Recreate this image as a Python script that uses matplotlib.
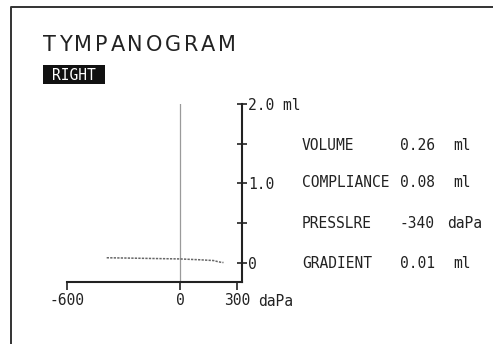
import matplotlib
matplotlib.use("Agg")
import matplotlib.pyplot as plt
from matplotlib.lines import Line2D
from matplotlib.patches import Rectangle

# --------------------------------------------------------------------------- #
# Data
# --------------------------------------------------------------------------- #
pressure = [-390, -300, -200, -100, 0, 100, 175, 200, 215, 228]  # daPa
compliance = [0.065, 0.062, 0.058, 0.054, 0.050, 0.040, 0.030, 0.015, 0.008, 0.005]  # ml

x_ticks = [-600, 0, 300]
x_tick_labels = ["-600", "0", "300"]
y_ticks = [0, 0.5, 1.0, 1.5, 2.0]
y_tick_labels = ["0", "", "1.0", "", "2.0 ml"]

result_names = ["VOLUME", "COMPLIANCE", "PRESSLRE", "GRADIENT"]
result_values = ["0.26", "0.08", "-340", "0.01"]
result_units = ["ml", "ml", "daPa", "ml"]

W, H = 493, 344
INK = "#222222"
MONO = "DejaVu Sans Mono"


def px(x, y):
    """Pixel position (top-left origin) -> figure fraction."""
    return x / W, 1 - y / H


fig = plt.figure(figsize=(W / 100, H / 100), dpi=100)
renderer = fig.canvas.get_renderer()

# page border (left and top edges visible)
fig.add_artist(Line2D([px(11, 0)[0], px(11, 7)[0], px(493, 7)[0]],
                      [px(11, 344)[1], px(11, 7)[1], px(493, 7)[1]],
                      transform=fig.transFigure, color="#333333", lw=1.4))

# title: letters laid out with an even gap between them (printer style)
title = "TYMPANOGRAM"
letters = []
for ch in title:
    t = fig.text(0, 0, ch, ha="left", va="center", fontsize=15,
                 color=INK, family="DejaVu Sans")
    letters.append((t, t.get_window_extent(renderer).width))
span = 236 - 43
gap = (span - sum(w for _, w in letters)) / (len(letters) - 1)
cursor = 43
for t, w in letters:
    t.set_position(px(cursor, 45))
    cursor += w + gap

# ear badge
x0, y0 = px(43, 84)
x1, y1 = px(105, 65)
fig.add_artist(Rectangle((x0, y0), x1 - x0, y1 - y0, transform=fig.transFigure,
                         facecolor="#111111", edgecolor="none"))
fx, fy = px(74, 75)
fig.text(fx, fy, "RIGHT", ha="center", va="center", fontsize=10.5,
         color="white", family=MONO)

# tympanogram axes
left, top = px(67, 104)
right, bottom = px(242, 282)
ax = fig.add_axes([left, bottom, right - left, top - bottom])
ax.set_xlim(-600, 326)
ax.set_ylim(-0.24, 2.0)
ax.set_facecolor("none")
for side in ("left", "top"):
    ax.spines[side].set_visible(False)
for side in ("right", "bottom"):
    ax.spines[side].set_linewidth(1.5)
    ax.spines[side].set_color(INK)

ax.axvline(0, ymin=0, ymax=1, color="#9a9a9a", lw=0.9, zorder=1)
ax.plot(pressure, compliance, color="#666666", lw=1.1,
        linestyle=(0, (1.5, 0.8)), zorder=2)

ax.set_xticks(x_ticks)
ax.set_xticklabels(x_tick_labels, family=MONO, fontsize=10.5, color=INK)
ax.tick_params(axis="x", direction="out", length=6, width=1.2, color=INK, pad=2)

ax.yaxis.tick_right()
ax.set_yticks(y_ticks)
ax.set_yticklabels(y_tick_labels, family=MONO, fontsize=10.5, color=INK)
ax.tick_params(axis="y", direction="inout", length=7, width=1.2, color=INK, pad=1)

ax.annotate("daPa", xy=(300, 0), xycoords=("data", "axes fraction"),
            xytext=(15, -14), textcoords="offset points", ha="left", va="center",
            family=MONO, fontsize=10.5, color=INK)

# measurement table
rows_y = [145, 183, 223, 263]
for name, val, unit, y in zip(result_names, result_values, result_units, rows_y):
    fx, fy = px(302, y)
    fig.text(fx, fy, name, ha="left", va="center", family=MONO,
             fontsize=10.5, color=INK)
    fx, fy = px(435, y)
    fig.text(fx, fy, val, ha="right", va="center", family=MONO,
             fontsize=10.5, color=INK)
    fx, fy = px(447 if unit == "daPa" else 453, y)
    fig.text(fx, fy, unit, ha="left", va="center", family=MONO,
             fontsize=10.5, color=INK)

fig.savefig("out.png", dpi=100)
